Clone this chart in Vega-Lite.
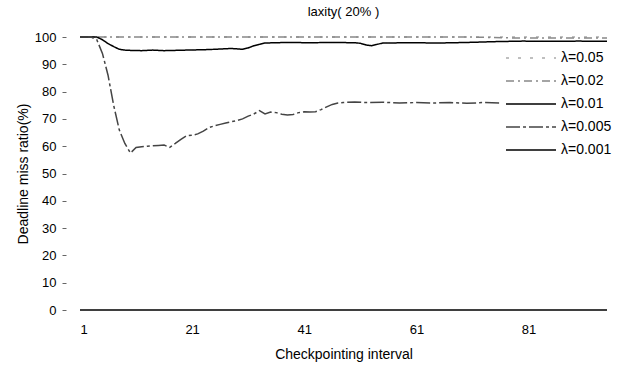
{
  "$schema": "https://vega.github.io/schema/vega-lite/v6.json",
  "width": 527,
  "height": 273,
  "autosize": "none",
  "padding": {"left": 80, "top": 37, "right": 15, "bottom": 59},
  "background": "white",
  "config": {"view": {"stroke": null}, "font": "Liberation Sans"},
  "title": {"text": "laxity( 20% )", "fontSize": 13, "fontWeight": "normal", "offset": 12, "anchor": "middle", "color": "black"},
  "data": {"values": [
    {"lambda": "λ=0.05", "interval": 1, "ratio": 100},
    {"lambda": "λ=0.05", "interval": 10, "ratio": 100},
    {"lambda": "λ=0.05", "interval": 20, "ratio": 100},
    {"lambda": "λ=0.05", "interval": 30, "ratio": 100},
    {"lambda": "λ=0.05", "interval": 40, "ratio": 100},
    {"lambda": "λ=0.05", "interval": 50, "ratio": 100},
    {"lambda": "λ=0.05", "interval": 60, "ratio": 100},
    {"lambda": "λ=0.05", "interval": 70, "ratio": 100},
    {"lambda": "λ=0.05", "interval": 80, "ratio": 100},
    {"lambda": "λ=0.05", "interval": 90, "ratio": 100},
    {"lambda": "λ=0.05", "interval": 95, "ratio": 100},
    {"lambda": "λ=0.02", "interval": 1, "ratio": 100},
    {"lambda": "λ=0.02", "interval": 10, "ratio": 100},
    {"lambda": "λ=0.02", "interval": 20, "ratio": 100},
    {"lambda": "λ=0.02", "interval": 30, "ratio": 100},
    {"lambda": "λ=0.02", "interval": 40, "ratio": 100},
    {"lambda": "λ=0.02", "interval": 50, "ratio": 100},
    {"lambda": "λ=0.02", "interval": 60, "ratio": 100},
    {"lambda": "λ=0.02", "interval": 70, "ratio": 100},
    {"lambda": "λ=0.02", "interval": 80, "ratio": 99.6},
    {"lambda": "λ=0.02", "interval": 90, "ratio": 99.6},
    {"lambda": "λ=0.02", "interval": 95, "ratio": 99.6},
    {"lambda": "λ=0.01", "interval": 1, "ratio": 100},
    {"lambda": "λ=0.01", "interval": 2, "ratio": 100},
    {"lambda": "λ=0.01", "interval": 3, "ratio": 100},
    {"lambda": "λ=0.01", "interval": 4, "ratio": 100},
    {"lambda": "λ=0.01", "interval": 5, "ratio": 99},
    {"lambda": "λ=0.01", "interval": 6, "ratio": 97.6},
    {"lambda": "λ=0.01", "interval": 7, "ratio": 96.5},
    {"lambda": "λ=0.01", "interval": 8, "ratio": 95.5},
    {"lambda": "λ=0.01", "interval": 9, "ratio": 95.2},
    {"lambda": "λ=0.01", "interval": 10, "ratio": 95.1},
    {"lambda": "λ=0.01", "interval": 12, "ratio": 95},
    {"lambda": "λ=0.01", "interval": 14, "ratio": 95.2},
    {"lambda": "λ=0.01", "interval": 16, "ratio": 95},
    {"lambda": "λ=0.01", "interval": 18, "ratio": 95.1},
    {"lambda": "λ=0.01", "interval": 20, "ratio": 95.2},
    {"lambda": "λ=0.01", "interval": 22, "ratio": 95.3},
    {"lambda": "λ=0.01", "interval": 24, "ratio": 95.4},
    {"lambda": "λ=0.01", "interval": 26, "ratio": 95.6},
    {"lambda": "λ=0.01", "interval": 28, "ratio": 95.8},
    {"lambda": "λ=0.01", "interval": 30, "ratio": 95.5},
    {"lambda": "λ=0.01", "interval": 31, "ratio": 96},
    {"lambda": "λ=0.01", "interval": 32, "ratio": 96.8},
    {"lambda": "λ=0.01", "interval": 33, "ratio": 97.3},
    {"lambda": "λ=0.01", "interval": 34, "ratio": 97.8},
    {"lambda": "λ=0.01", "interval": 38, "ratio": 98},
    {"lambda": "λ=0.01", "interval": 42, "ratio": 97.9},
    {"lambda": "λ=0.01", "interval": 46, "ratio": 98},
    {"lambda": "λ=0.01", "interval": 50, "ratio": 97.9},
    {"lambda": "λ=0.01", "interval": 51, "ratio": 97.7},
    {"lambda": "λ=0.01", "interval": 52, "ratio": 97.1},
    {"lambda": "λ=0.01", "interval": 53, "ratio": 96.8},
    {"lambda": "λ=0.01", "interval": 54, "ratio": 97.3},
    {"lambda": "λ=0.01", "interval": 55, "ratio": 97.8},
    {"lambda": "λ=0.01", "interval": 60, "ratio": 97.9},
    {"lambda": "λ=0.01", "interval": 65, "ratio": 97.8},
    {"lambda": "λ=0.01", "interval": 70, "ratio": 98},
    {"lambda": "λ=0.01", "interval": 75, "ratio": 98.3},
    {"lambda": "λ=0.01", "interval": 80, "ratio": 98.5},
    {"lambda": "λ=0.01", "interval": 85, "ratio": 98.4},
    {"lambda": "λ=0.01", "interval": 90, "ratio": 98.5},
    {"lambda": "λ=0.01", "interval": 95, "ratio": 98.4},
    {"lambda": "λ=0.005", "interval": 1, "ratio": 100},
    {"lambda": "λ=0.005", "interval": 2, "ratio": 100},
    {"lambda": "λ=0.005", "interval": 3, "ratio": 100},
    {"lambda": "λ=0.005", "interval": 4, "ratio": 99},
    {"lambda": "λ=0.005", "interval": 5, "ratio": 94},
    {"lambda": "λ=0.005", "interval": 6, "ratio": 86},
    {"lambda": "λ=0.005", "interval": 7, "ratio": 75},
    {"lambda": "λ=0.005", "interval": 8, "ratio": 66},
    {"lambda": "λ=0.005", "interval": 9, "ratio": 61},
    {"lambda": "λ=0.005", "interval": 10, "ratio": 57.5},
    {"lambda": "λ=0.005", "interval": 11, "ratio": 59.5},
    {"lambda": "λ=0.005", "interval": 12, "ratio": 59.8},
    {"lambda": "λ=0.005", "interval": 13, "ratio": 60},
    {"lambda": "λ=0.005", "interval": 14, "ratio": 60.2},
    {"lambda": "λ=0.005", "interval": 15, "ratio": 60.3},
    {"lambda": "λ=0.005", "interval": 16, "ratio": 60.4},
    {"lambda": "λ=0.005", "interval": 17, "ratio": 59.6},
    {"lambda": "λ=0.005", "interval": 18, "ratio": 61},
    {"lambda": "λ=0.005", "interval": 19, "ratio": 62.5},
    {"lambda": "λ=0.005", "interval": 20, "ratio": 63.8},
    {"lambda": "λ=0.005", "interval": 21, "ratio": 64},
    {"lambda": "λ=0.005", "interval": 22, "ratio": 64.5},
    {"lambda": "λ=0.005", "interval": 23, "ratio": 65.5},
    {"lambda": "λ=0.005", "interval": 24, "ratio": 66.8},
    {"lambda": "λ=0.005", "interval": 25, "ratio": 67.5},
    {"lambda": "λ=0.005", "interval": 26, "ratio": 68},
    {"lambda": "λ=0.005", "interval": 27, "ratio": 68.5},
    {"lambda": "λ=0.005", "interval": 28, "ratio": 69},
    {"lambda": "λ=0.005", "interval": 29, "ratio": 69.4},
    {"lambda": "λ=0.005", "interval": 30, "ratio": 70},
    {"lambda": "λ=0.005", "interval": 31, "ratio": 71},
    {"lambda": "λ=0.005", "interval": 32, "ratio": 71.8},
    {"lambda": "λ=0.005", "interval": 33, "ratio": 73},
    {"lambda": "λ=0.005", "interval": 34, "ratio": 71.8},
    {"lambda": "λ=0.005", "interval": 35, "ratio": 72.5},
    {"lambda": "λ=0.005", "interval": 36, "ratio": 72.3},
    {"lambda": "λ=0.005", "interval": 37, "ratio": 71.7},
    {"lambda": "λ=0.005", "interval": 38, "ratio": 71.4},
    {"lambda": "λ=0.005", "interval": 39, "ratio": 71.6},
    {"lambda": "λ=0.005", "interval": 40, "ratio": 72.3},
    {"lambda": "λ=0.005", "interval": 41, "ratio": 72.6},
    {"lambda": "λ=0.005", "interval": 42, "ratio": 72.5},
    {"lambda": "λ=0.005", "interval": 43, "ratio": 72.6},
    {"lambda": "λ=0.005", "interval": 44, "ratio": 73.4},
    {"lambda": "λ=0.005", "interval": 45, "ratio": 74.4},
    {"lambda": "λ=0.005", "interval": 46, "ratio": 75.3},
    {"lambda": "λ=0.005", "interval": 47, "ratio": 75.8},
    {"lambda": "λ=0.005", "interval": 48, "ratio": 76},
    {"lambda": "λ=0.005", "interval": 50, "ratio": 76.2},
    {"lambda": "λ=0.005", "interval": 52, "ratio": 76},
    {"lambda": "λ=0.005", "interval": 55, "ratio": 76.1},
    {"lambda": "λ=0.005", "interval": 58, "ratio": 75.8},
    {"lambda": "λ=0.005", "interval": 61, "ratio": 76},
    {"lambda": "λ=0.005", "interval": 64, "ratio": 75.8},
    {"lambda": "λ=0.005", "interval": 67, "ratio": 76},
    {"lambda": "λ=0.005", "interval": 70, "ratio": 75.7},
    {"lambda": "λ=0.005", "interval": 73, "ratio": 76},
    {"lambda": "λ=0.005", "interval": 76, "ratio": 75.8},
    {"lambda": "λ=0.005", "interval": 80, "ratio": 76},
    {"lambda": "λ=0.005", "interval": 85, "ratio": 75.9},
    {"lambda": "λ=0.005", "interval": 90, "ratio": 76},
    {"lambda": "λ=0.005", "interval": 95, "ratio": 76},
    {"lambda": "λ=0.001", "interval": 1, "ratio": 0},
    {"lambda": "λ=0.001", "interval": 10, "ratio": 0},
    {"lambda": "λ=0.001", "interval": 20, "ratio": 0},
    {"lambda": "λ=0.001", "interval": 30, "ratio": 0},
    {"lambda": "λ=0.001", "interval": 40, "ratio": 0},
    {"lambda": "λ=0.001", "interval": 50, "ratio": 0},
    {"lambda": "λ=0.001", "interval": 60, "ratio": 0},
    {"lambda": "λ=0.001", "interval": 70, "ratio": 0},
    {"lambda": "λ=0.001", "interval": 80, "ratio": 0},
    {"lambda": "λ=0.001", "interval": 90, "ratio": 0},
    {"lambda": "λ=0.001", "interval": 95, "ratio": 0}
  ]},
  "mark": {"type": "line", "clip": false},
  "encoding": {
    "x": {"field": "interval", "type": "quantitative",
      "scale": {"domain": [1, 95], "nice": false, "zero": false},
      "axis": {"values": [1, 21, 41, 61, 81], "domain": false, "ticks": false, "grid": false,
        "labelFontSize": 13, "labelColor": "black", "labelPadding": 13,
        "title": "Checkpointing interval", "titleFontSize": 14, "titleFontWeight": "normal", "titleColor": "black", "titlePadding": 11}},
    "y": {"field": "ratio", "type": "quantitative",
      "scale": {"domain": [0, 100], "nice": false},
      "axis": {"values": [0, 10, 20, 30, 40, 50, 60, 70, 80, 90, 100], "domain": false, "grid": false,
        "offset": 14, "tickSize": 4, "tickColor": "#666", "labelPadding": 6,
        "labelFontSize": 13, "labelColor": "black",
        "title": "Deadline miss ratio(%)", "titleFontSize": 14, "titleFontWeight": "normal", "titleColor": "black", "titlePadding": 4}},
    "color": {"field": "lambda", "type": "nominal",
      "scale": {"domain": ["λ=0.05", "λ=0.02", "λ=0.01", "λ=0.005", "λ=0.001"], "range": ["#aaaaaa", "#888888", "#000000", "#444444", "#000000"]},
      "legend": {"orient": "none", "legendX": 421, "legendY": 6, "padding": 4, "fillColor": "white", "title": null, "symbolType": "M-1,0H4", "symbolSize": 400,
        "labelFontSize": 14, "labelColor": "black", "labelOffset": 34, "rowPadding": 5}},
    "strokeDash": {"field": "lambda", "type": "nominal",
      "scale": {"domain": ["λ=0.05", "λ=0.02", "λ=0.01", "λ=0.005", "λ=0.001"], "range": [[3, 9], [8, 4, 2, 4], [1, 0], [14, 3, 3, 3], [1, 0]]},
      "legend": {"orient": "none", "legendX": 421, "legendY": 6, "padding": 4, "fillColor": "white", "title": null, "symbolType": "M-1,0H4", "symbolSize": 400,
        "labelFontSize": 14, "labelColor": "black", "labelOffset": 34, "rowPadding": 5}},
    "strokeWidth": {"field": "lambda", "type": "nominal",
      "scale": {"domain": ["λ=0.05", "λ=0.02", "λ=0.01", "λ=0.005", "λ=0.001"], "range": [1.5, 1.5, 2, 1, 2.5]},
      "legend": {"orient": "none", "legendX": 421, "legendY": 6, "padding": 4, "fillColor": "white", "title": null, "symbolType": "M-1,0H4", "symbolSize": 400,
        "labelFontSize": 14, "labelColor": "black", "labelOffset": 34, "rowPadding": 5}}
  }
}
